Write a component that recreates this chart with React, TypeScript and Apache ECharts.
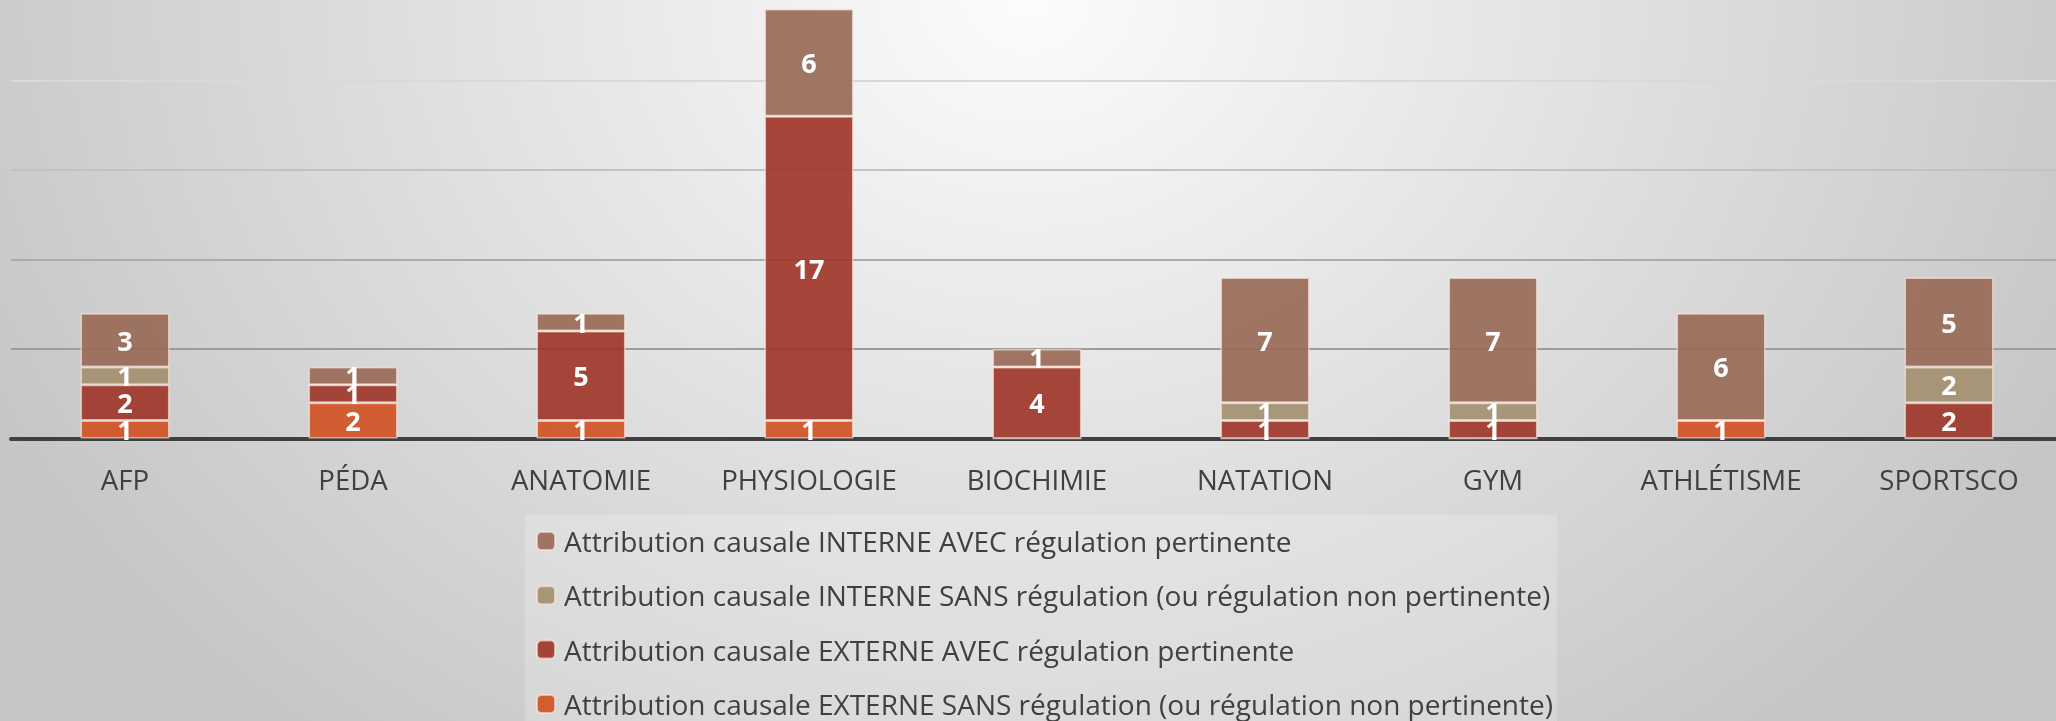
import React, { useEffect, useRef } from "react";
import * as echarts from "echarts";

const categories = ["AFP", "PÉDA", "ANATOMIE", "PHYSIOLOGIE", "BIOCHIMIE", "NATATION", "GYM", "ATHLÉTISME", "SPORTSCO"];

const externeSans = [1, 2, 1, 1, 0, 0, 0, 1, 0];
const externeAvec = [2, 1, 5, 17, 4, 1, 1, 0, 2];
const interneSans = [1, 0, 0, 0, 0, 1, 1, 0, 2];
const interneAvec = [3, 1, 1, 6, 1, 7, 7, 6, 5];

const seriesNames = [
  "Attribution causale EXTERNE SANS régulation (ou régulation non pertinente)",
  "Attribution causale EXTERNE AVEC régulation pertinente",
  "Attribution causale INTERNE SANS régulation (ou régulation non pertinente)",
  "Attribution causale INTERNE AVEC régulation pertinente",
];
const seriesValues = [externeSans, externeAvec, interneSans, interneAvec];
const seriesColors = [
  "rgba(211, 82, 36, 0.92)",
  "rgba(160, 55, 42, 0.92)",
  "rgba(163, 144, 112, 0.92)",
  "rgba(154, 106, 88, 0.92)",
];
const legendOrder = [seriesNames[3], seriesNames[2], seriesNames[1], seriesNames[0]];

const yMax = 24.5;
const yInterval = 5;

export default function App() {
  const ref = useRef<HTMLDivElement>(null);
  useEffect(() => {
    if (!ref.current) return;
    const chart = echarts.init(ref.current, null, { renderer: "svg" });
    chart.setOption({
      animation: false,
      grid: {
        left: 11,
        width: 2052,
        top: 0,
        bottom: 282.5,
        containLabel: false,
        outerBoundsMode: "none",
      },
      legend: {
        data: legendOrder,
        orient: "vertical",
        left: 525,
        top: 515,
        height: 400,
        padding: [11, 4, 40, 11],
        backgroundColor: "rgba(255,255,255,0.2)",
        itemWidth: 18,
        itemHeight: 18,
        itemGap: 24.3,
        textStyle: {
          fontFamily: "Open Sans",
          fontSize: 28,
          lineHeight: 30,
          color: "#404040",
          padding: [0, 0, 0, 4],
        },
      },
      xAxis: {
        type: "category",
        data: categories,
        axisLine: { show: true, lineStyle: { color: "#404040", width: 4 } },
        axisTick: { show: false },
        axisLabel: {
          interval: 0,
          fontFamily: "Open Sans",
          fontSize: 27.6,
          lineHeight: 30,
          color: "#404040",
          margin: 25,
        },
      },
      yAxis: {
        type: "value",
        min: 0,
        max: yMax,
        interval: yInterval,
        axisLine: { show: false },
        axisTick: { show: false },
        axisLabel: { show: false },
        splitLine: {
          show: true,
          lineStyle: {
            width: 2,
            color: ["rgba(0,0,0,0)", "#9c9c9c", "#ababab", "#c2c2c2", "#d9d9d9", "rgba(0,0,0,0)"],
          },
        },
      },
      series: seriesNames.map((name, i) => ({
        name,
        type: "bar",
        stack: "total",
        barWidth: "39%",
        data: seriesValues[i],
        itemStyle: {
          color: seriesColors[i],
          borderColor: "rgba(255,235,225,0.6)",
          borderWidth: 1.5,
        },
        label: {
          show: true,
          position: "inside",
          color: "#ffffff",
          fontFamily: "Open Sans",
          fontWeight: "bold",
          fontSize: 27,
          formatter: (p: any) => (p.value ? String(p.value) : ""),
        },
      })),
    });
    return () => chart.dispose();
  }, []);
  return (
    <div
      ref={ref}
      style={{
        position: "fixed",
        left: 0,
        top: 0,
        width: 2056,
        height: 721,
        background:
          "radial-gradient(ellipse 1150px 950px at 50% 0%, #fcfcfc 0%, #c6c6c6 100%)",
      }}
    />
  );
}
